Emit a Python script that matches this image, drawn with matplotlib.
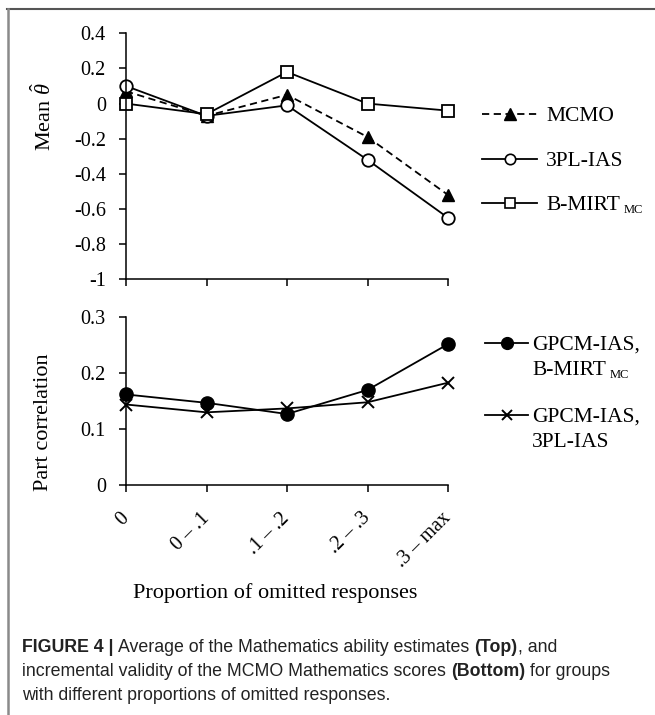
import matplotlib
matplotlib.use("Agg")
import matplotlib.pyplot as plt
from matplotlib.lines import Line2D

# data
groups = ["0", "0 \u2013 .1", ".1 \u2013 .2", ".2 \u2013 .3", ".3 \u2013 max"]
mcmo = [0.07, -0.07, 0.05, -0.19, -0.52]
pl3_ias = [0.10, -0.07, -0.01, -0.32, -0.65]
bmirt_mc = [0.00, -0.06, 0.18, 0.00, -0.04]
part_bmirt = [0.162, 0.147, 0.127, 0.170, 0.252]
part_3pl = [0.144, 0.130, 0.137, 0.148, 0.183]

top_yticks = [-1, -0.8, -0.6, -0.4, -0.2, 0, 0.2, 0.4]
top_ylabels = ["-1", "-0.8", "-0.6", "-0.4", "-0.2", "0", "0.2", "0.4"]
bot_yticks = [0, 0.1, 0.2, 0.3]
bot_ylabels = ["0", "0.1", "0.2", "0.3"]

plt.rcParams["font.family"] = "Liberation Serif"
plt.rcParams["mathtext.fontset"] = "custom"
plt.rcParams["mathtext.rm"] = "Liberation Serif"
plt.rcParams["mathtext.it"] = "Liberation Serif:italic"

W, H = 655, 715
fig = plt.figure(figsize=(W / 100, H / 100), dpi=100)


def fx(x):
    return x / W


def fy(y):
    return 1 - y / H


x = list(range(len(groups)))
ax1 = fig.add_axes([fx(126), fy(279.3), 322 / W, 246 / H])
ax2 = fig.add_axes([fx(126), fy(485), 322 / W, 167.7 / H])

lw = 1.3
dash = (0, (4, 2.5))
ax1.plot(x, mcmo, ls=dash, color="black", lw=lw, marker="^", ms=9,
         mfc="black", mec="black", clip_on=False)
ax1.plot(x, pl3_ias, color="black", lw=lw, marker="o", ms=9, mfc="white",
         mec="black", mew=1.3, clip_on=False)
ax1.plot(x, bmirt_mc, color="black", lw=lw, marker="s", ms=8.5, mfc="white",
         mec="black", mew=1.3, clip_on=False)

ax2.plot(x, part_bmirt, color="black", lw=lw, marker="o", ms=9.5,
         mfc="black", mec="black", clip_on=False)
ax2.plot(x, part_3pl, color="black", lw=lw, marker="x", ms=8.5, mew=1.4,
         clip_on=False)

for ax, ticks, labels, lims in [(ax1, top_yticks, top_ylabels, (-1, 0.4)),
                                (ax2, bot_yticks, bot_ylabels, (0, 0.3))]:
    ax.set_xlim(0, len(groups) - 1)
    ax.set_ylim(*lims)
    ax.set_yticks(ticks)
    ax.set_yticklabels(labels)
    ax.set_xticks(x)
    for s in ["top", "right"]:
        ax.spines[s].set_visible(False)
    for s in ["left", "bottom"]:
        ax.spines[s].set_linewidth(1.1)
    ax.tick_params(direction="out", length=5, width=1.1, labelsize=14.5,
                   pad=9.5)

ax1.set_xticklabels([])
ax2.set_xticklabels(groups, rotation=45, ha="right", va="center",
                    rotation_mode="anchor")
ax2.tick_params(axis="x", pad=17)

fig.text(fx(44), fy(117), r"Mean $\hat{\theta}$", rotation=90, ha="center",
         va="center", fontsize=16)
fig.text(fx(43), fy(422), "Part correlation", rotation=90, ha="center",
         va="center", fontsize=16)
fig.text(fx(275), fy(598), "Proportion of omitted responses", ha="center",
         va="baseline", fontsize=16)


def entry(x0, x1, y, **style):
    fig.add_artist(Line2D([fx(x0), fx(x1)], [fy(y), fy(y)], color="black",
                          lw=lw, transform=fig.transFigure, **style))


def marker(xm, y, **style):
    fig.add_artist(Line2D([fx(xm)], [fy(y)], transform=fig.transFigure,
                          ls="none", **style))


def label(x0, y, s, size=15.5):
    return fig.text(fx(x0), fy(y + 7), s, ha="left", va="baseline",
                    fontsize=size)


def sub(t, s):
    # small lowered "MC" right after the label
    x1 = t.get_window_extent(fig.canvas.get_renderer()).x1
    fig.text(x1 / W + fx(4), t.get_position()[1] - 3 / H, s, fontsize=9,
             ha="left", va="baseline")


# top legend
entry(482, 537, 114, ls=dash)
marker(509.5, 114, marker="^", ms=8, mfc="black", mec="black")
label(546, 114, "MCMO")
entry(482, 537, 159)
marker(509.5, 159, marker="o", ms=7.5, mfc="white", mec="black", mew=1.2)
label(546, 159, "3PL-IAS")
entry(482, 537, 203)
marker(509.5, 203, marker="s", ms=7, mfc="white", mec="black", mew=1.2)
sub(label(546, 203, "B-MIRT"), "MC")

# bottom legend
entry(485, 528, 343)
marker(506.5, 343, marker="o", ms=8.5, mfc="black", mec="black")
label(532, 343, "GPCM-IAS,")
sub(label(532, 368, "B-MIRT"), "MC")
entry(485, 528, 415)
marker(506.5, 415, marker="x", ms=7.5, mew=1.4, color="black")
label(532, 415, "GPCM-IAS,")
label(532, 440, "3PL-IAS")

# page frame
fig.add_artist(Line2D([fx(7), 1], [fy(9), fy(9)], color="#555555", lw=1.5,
                      transform=fig.transFigure))
fig.add_artist(Line2D([fx(7.5), fx(7.5)], [fy(9), 0], color="#8a8a8a", lw=1.8,
                      transform=fig.transFigure))

# caption, bold pieces placed after the regular ones
cap_font = "Liberation Sans"
cap_size = 12.8
cap_lines = [
    [("FIGURE 4 | ", "bold"), ("Average of the Mathematics ability estimates ", "normal"),
     ("(Top)", "bold"), (", and", "normal")],
    [("incremental validity of the MCMO Mathematics scores ", "normal"),
     ("(Bottom)", "bold"), (" for groups", "normal")],
    [("with different proportions of omitted responses.", "normal")],
]
renderer = fig.canvas.get_renderer()
for i, pieces in enumerate(cap_lines):
    xpos = fx(22)
    for s, wt in pieces:
        t = fig.text(xpos, fy(652 + 24 * i), s, ha="left", va="baseline",
                     fontsize=cap_size, family=cap_font, weight=wt,
                     color="#222222")
        xpos = t.get_window_extent(renderer).x1 / W

fig.savefig("out.png", dpi=100)
